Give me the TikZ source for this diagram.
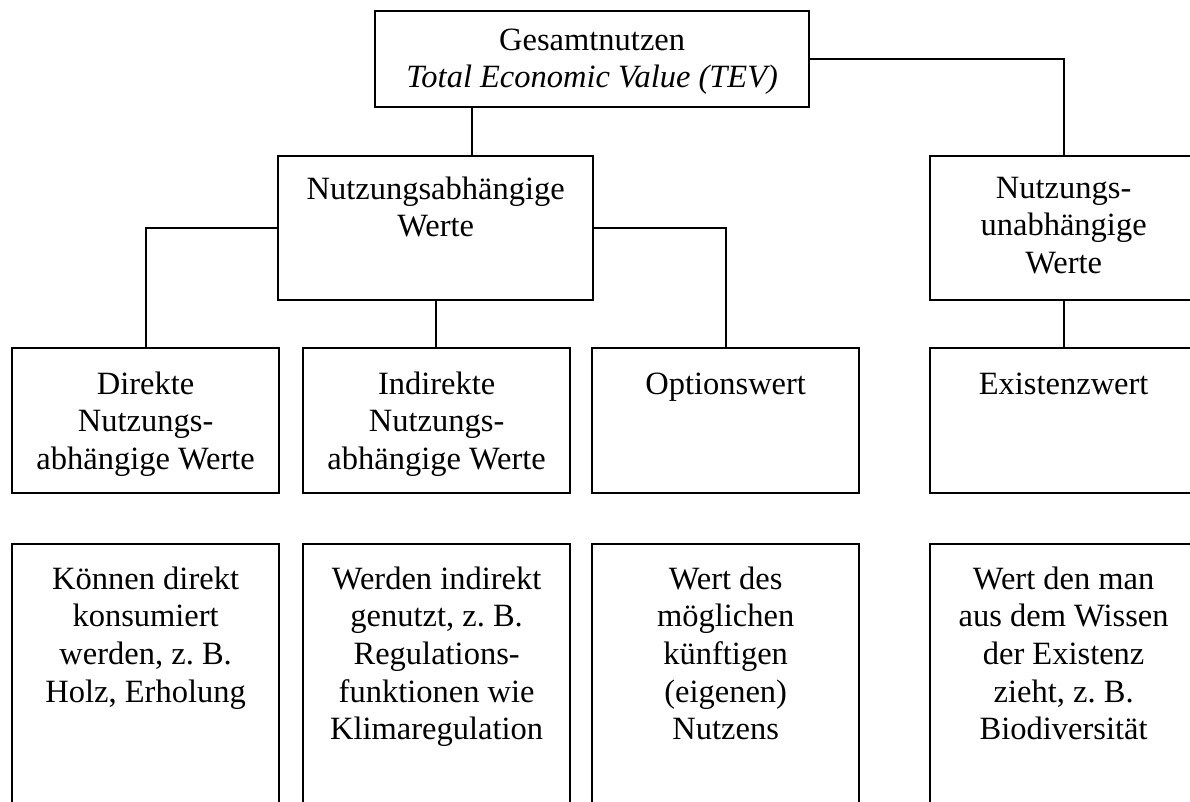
\documentclass[tikz,border=0pt]{standalone}
\usepackage{fontspec}
\setmainfont{Liberation Serif}
\newcommand{\bxt}[4][44]{\parbox[t][#3pt][t]{#2pt}{\centering\rule{0pt}{#1pt}#4}}
\tikzset{
  bx/.style={draw, line width=2.3pt, inner sep=0pt, anchor=north west,
    font=\fontsize{32.5}{37.7}\selectfont},
  ln/.style={line width=2.3pt},
}
\begin{document}
\begin{tikzpicture}[x=1pt,y=-1pt]
\useasboundingbox (0,0) rectangle (1190,801);
\clip (0,0) rectangle (1190,801);
% level 1
\node[bx] (tev) at (374,10) {\bxt[39]{434}{96}{Gesamtnutzen\\\textit{Total Economic Value (TEV)}}};
% level 2
\node[bx] (mid) at (277,155) {\bxt[43]{315}{144}{Nutzungsabh\"angige\\Werte}};
\node[bx] (una) at (929,155) {\bxt[42]{267}{144}{Nutzungs-\\unabh\"angige\\Werte}};
% level 3
\node[bx] (dir) at (11,347) {\bxt[46]{267}{145}{Direkte\\Nutzungs-\\abh\"angige Werte}};
\node[bx] (ind) at (302,347) {\bxt[46]{267}{145}{Indirekte\\Nutzungs-\\abh\"angige Werte}};
\node[bx] (opt) at (591,347) {\bxt[46]{267}{145}{Optionswert}};
\node[bx] (exi) at (929,347) {\bxt[46]{267}{145}{Existenzwert}};
% level 4
\node[bx] (dird) at (11,543) {\bxt[45]{267}{290}{K\"onnen direkt\\konsumiert\\werden, z.~B.\\Holz, Erholung}};
\node[bx] (indd) at (302,543) {\bxt[45]{267}{290}{Werden indirekt\\genutzt, z.~B.\\Regulations-\\funktionen wie\\Klimaregulation}};
\node[bx] (optd) at (591,543) {\bxt[45]{267}{290}{Wert des\\m\"oglichen\\k\"unftigen\\(eigenen)\\Nutzens}};
\node[bx] (exid) at (929,543) {\bxt[45]{267}{290}{Wert den man\\aus dem Wissen\\der Existenz\\zieht, z.~B.\\Biodiversit\"at}};
% connectors
\coordinate (c1) at (472,0);
\draw[ln] (tev.south -| c1) -- (mid.north -| c1);
\draw[ln] (tev.east) -| (una.north);
\draw[ln] (mid.west) -| (dir.north);
\draw[ln] (mid.east) -| (opt.north);
\draw[ln] (mid.south) -- (mid.south |- ind.north);
\draw[ln] (una.south) -- (exi.north);
\end{tikzpicture}
\end{document}
